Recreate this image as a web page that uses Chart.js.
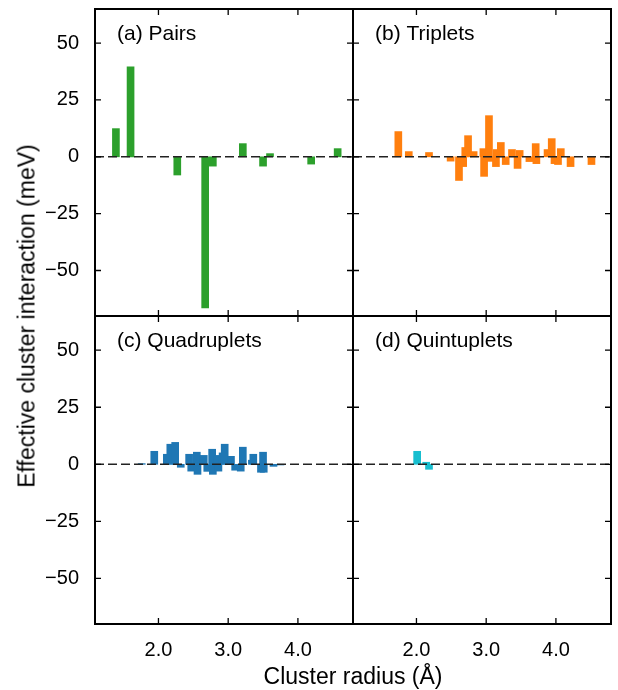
<!DOCTYPE html>
<html>
<head>
<meta charset="utf-8">
<script src="https://cdn.jsdelivr.net/npm/chart.js@4.4.1/dist/chart.umd.min.js"></script>
<style>
  body { margin: 0; background: #fff; }
  #wrap { position: relative; width: 618px; height: 690px; font-family: "Liberation Sans", Arial, sans-serif; }
  #wrap canvas { position: absolute; left: 0; top: 0; }
  .ytitle { position: absolute; left: 27px; top: 316px; transform: translate(-50%, -50%) rotate(-90deg); white-space: nowrap; font-size: 23px; color: #000; }
  .xtitle { position: absolute; left: 353px; top: 676px; transform: translate(-50%, -50%); white-space: nowrap; font-size: 23px; color: #000; }
</style>
</head>
<body>
<div id="wrap">
  <canvas id="pa" width="618" height="690"></canvas>
  <canvas id="pb" width="618" height="690"></canvas>
  <canvas id="pc" width="618" height="690"></canvas>
  <canvas id="pd" width="618" height="690"></canvas>
  <div class="ytitle">Effective cluster interaction (meV)</div>
  <div class="xtitle">Cluster radius (Å)</div>
</div>
<script>
// axis ranges and ticks
var xMin = 1.09, xMax = 4.79;
var yMin = -70, yMax = 65;
var xTicks = [2.0, 3.0, 4.0];
var yTicks = [-50, -25, 0, 25, 50];

// (a) pairs
var pairsR = [1.39, 1.60, 2.27, 2.67, 2.78, 3.21, 3.50, 3.60, 4.19, 4.57];
var pairsE = [12.4, 39.6, -8.0, -66.4, -4.1, 5.8, -4.1, 1.4, -3.2, 3.6];

// (b) triplets
var tripR = [1.74, 1.89, 2.18, 2.49, 2.61, 2.67, 2.70, 2.74, 2.82, 2.96, 2.97, 3.04, 3.05, 3.14, 3.15,
             3.21, 3.28, 3.37, 3.45, 3.48, 3.62, 3.71, 3.72, 3.88, 3.94, 3.98, 4.03, 4.07, 4.21, 4.51];
var tripE = [11.1, 2.3, 1.9, -1.9, -10.4, -4.3, 4.1, 9.3, 2.3, 3.6, -8.6, 18.1, -2.0, -4.3, 3.2,
             6.3, -3.4, 3.2, -5.1, 2.8, -2.1, 5.8, -3.0, 3.2, 8.0, -3.0, -3.4, 3.6, -4.3, -3.4];

// (c) quadruplets
var quadR = [1.76, 1.94, 2.12, 2.17, 2.24, 2.32, 2.44, 2.47, 2.55, 2.56, 2.65, 2.70, 2.77, 2.78, 2.85,
             2.86, 2.92, 2.95, 3.04, 3.10, 3.18, 3.21, 3.34, 3.36, 3.47, 3.50, 3.51, 3.65, 3.75];
var quadE = [0.3, 5.7, 4.4, 8.8, 9.6, -1.3, 4.4, -3.0, 5.3, -4.4, 3.9, -3.1, 6.6, -4.4, 3.9,
             -3.0, 5.0, 8.8, 3.5, -2.6, -3.0, 7.5, 1.8, 4.4, -3.5, 5.3, -3.5, -0.9, -0.3];

// (d) quintuplets
var quinR = [2.01, 2.14, 2.18];
var quinE = [5.7, 0.9, -2.2];

var W = 618, H = 690;
var FONT = '"Liberation Sans", Arial, sans-serif';

function minus(v) {
  return v < 0 ? '\u2212' + Math.abs(v) : String(v);
}

// frame, inward ticks and panel label
var frame = {
  id: 'frame',
  afterDatasetsDraw: function(chart, args, opts) {
    var ctx = chart.ctx, a = chart.chartArea;
    var x = chart.scales.x, y = chart.scales.y;
    ctx.save();
    ctx.strokeStyle = '#000';
    ctx.lineWidth = 1.3;
    ctx.beginPath();
    x.ticks.forEach(function(t) {
      var px = x.getPixelForValue(t.value);
      ctx.moveTo(px, a.bottom); ctx.lineTo(px, a.bottom - 6);
      ctx.moveTo(px, a.top); ctx.lineTo(px, a.top + 6);
    });
    y.ticks.forEach(function(t) {
      var py = y.getPixelForValue(t.value);
      ctx.moveTo(a.left, py); ctx.lineTo(a.left + 6, py);
      ctx.moveTo(a.right, py); ctx.lineTo(a.right - 6, py);
    });
    ctx.stroke();
    ctx.lineWidth = 2;
    ctx.strokeRect(a.left, a.top, a.right - a.left, a.bottom - a.top);
    ctx.fillStyle = '#000';
    ctx.font = '21px ' + FONT;
    ctx.textBaseline = 'middle';
    ctx.textAlign = 'left';
    ctx.fillText(opts.label, a.left + 22, a.top + 25);
    ctx.restore();
  }
};

function panel(id, r, e, color, label, box, showX, showY) {
  var pts = r.map(function(v, i) { return {x: v, y: e[i]}; });
  new Chart(document.getElementById(id), {
    type: 'bar',
    data: {
      datasets: [{
        type: 'line',
        data: [{x: xMin, y: 0}, {x: xMax, y: 0}],
        borderColor: '#222',
        borderWidth: 1.5,
        borderDash: [9, 4],
        pointRadius: 0,
        order: 0
      }, {
        data: pts,
        backgroundColor: color,
        barThickness: 7,
        order: 1
      }]
    },
    options: {
      responsive: false,
      animation: false,
      events: [],
      layout: { padding: { top: box.top, right: W - box.right, left: 0, bottom: 0 } },
      plugins: {
        legend: { display: false },
        tooltip: { enabled: false },
        frame: { label: label }
      },
      scales: {
        x: {
          type: 'linear',
          min: xMin,
          max: xMax,
          offset: false,
          afterBuildTicks: function(s) { s.ticks = xTicks.map(function(v) { return {value: v}; }); },
          afterFit: function(s) {
            s.height = H - box.bottom;
            s.paddingLeft = 0; s.paddingRight = 0;
          },
          grid: { display: false, drawTicks: false },
          border: { display: false },
          ticks: {
            display: showX,
            padding: 14,
            color: '#000',
            font: { family: FONT, size: 20 },
            maxRotation: 0,
            callback: function(v) { return v.toFixed(1); }
          }
        },
        y: {
          min: yMin,
          max: yMax,
          afterBuildTicks: function(s) { s.ticks = yTicks.map(function(v) { return {value: v}; }); },
          afterFit: function(s) {
            s.width = box.left;
            s.paddingTop = 0; s.paddingBottom = 0;
          },
          grid: { display: false, drawTicks: false },
          border: { display: false },
          ticks: {
            display: showY,
            padding: 16,
            color: '#000',
            font: { family: FONT, size: 20 },
            callback: function(v) { return minus(v); }
          }
        }
      }
    },
    plugins: [frame]
  });
}

panel('pa', pairsR, pairsE, '#2ca02c', '(a) Pairs', {left: 95, right: 353, top: 9, bottom: 316}, false, true);
panel('pb', tripR, tripE, '#ff7f0e', '(b) Triplets', {left: 353, right: 611, top: 9, bottom: 316}, false, false);
panel('pc', quadR, quadE, '#1f77b4', '(c) Quadruplets', {left: 95, right: 353, top: 316, bottom: 624}, true, true);
panel('pd', quinR, quinE, '#17becf', '(d) Quintuplets', {left: 353, right: 611, top: 316, bottom: 624}, true, false);
</script>
</body>
</html>
